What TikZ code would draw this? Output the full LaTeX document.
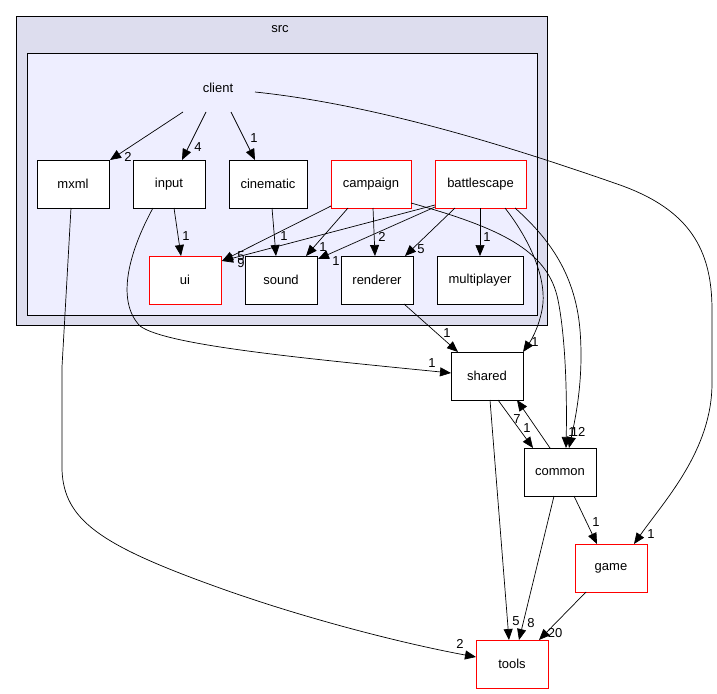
\documentclass[tikz,border=0pt]{standalone}
\usepackage{fontspec}
\setmainfont{Liberation Sans}
\usetikzlibrary{arrows.meta,calc}
\definecolor{outerfill}{HTML}{DDDDEE}
\definecolor{innerfill}{HTML}{EEEEFF}
\begin{document}
\begin{tikzpicture}[x=1pt,y=-1pt,
  box/.style={draw, fill=white, line width=0.8pt, minimum width=72pt, minimum height=48pt, inner sep=0pt, font=\fontsize{13}{15}\selectfont},
  redbox/.style={box, draw=red},
  lbl/.style={inner sep=0pt, font=\fontsize{13}{15}\selectfont},
  edge/.style={line width=0.7pt, -{Triangle[length=11pt,width=9pt]}}]
\useasboundingbox (0,0) rectangle (717,693);
% clusters
\draw[fill=outerfill, line width=0.8pt] (16,16) rectangle (547,325);
\node[lbl] (srclbl) at (280,29) {src};
\draw[fill=innerfill, line width=0.8pt] (27,53) rectangle (537,315);
\node[lbl, minimum width=72pt, minimum height=48pt] (client) at (218,88) {client};
% nodes
\node[box] (mxml) at (73,184) {mxml};
\node[box] (input) at (169,184) {input};
\node[box, minimum width=78pt] (cinematic) at (268,184) {cinematic};
\node[redbox, minimum width=80pt] (campaign) at (371,184) {campaign};
\node[redbox, minimum width=91pt] (battlescape) at (480.5,184) {battlescape};
\node[redbox] (ui) at (185,280) {ui};
\node[box] (sound) at (281,280) {sound};
\node[box] (renderer) at (377,280) {renderer};
\node[box, minimum width=86pt] (multiplayer) at (480,280) {multiplayer};
\node[box] (shared) at (487,376) {shared};
\node[box] (common) at (560,472) {common};
\node[redbox] (game) at (611,568) {game};
\node[redbox] (tools) at (512,664) {tools};
% edges
\draw[edge] ($(client)+(-35,24)$) -- ($(mxml)+(37,-24)$);
\node[lbl] (l1) at (128,157) {2};
\draw[edge] ($(client)+(-12,24)$) -- ($(input)+(13,-24)$);
\node[lbl] (l2) at (198,147) {4};
\draw[edge] ($(client)+(13,24)$) -- ($(cinematic)+(-13,-24)$);
\node[lbl] (l3) at (254,138) {1};
\draw[edge] ($(client)+(37,4)$) .. controls (380,105) and (520,150) .. (620,185)
  .. controls (690,210) and (712,250) .. (712,310) -- (712,383)
  .. controls (712,450) and (665,500) .. ($(game)+(23,-24)$);
\node[lbl] (l4) at (651,534) {1};
\draw[edge] ($(input)+(5,24)$) -- ($(ui)+(-4,-24)$);
\node[lbl] (l5) at (186,236) {1};
\draw[edge] ($(input)+(-16,24)$) .. controls (130,250) and (115,300) .. (140,326)
  .. controls (165,345) and (300,358) .. ($(shared)+(-36,-3)$);
\node[lbl] (l6) at (432,363) {1};
\draw[edge] ($(mxml)+(-2,24)$) -- (62,367) -- (62,470)
  .. controls (64,520) and (100,545) .. (217,587)
  .. controls (300,617) and (400,643) .. ($(tools)+(-36,-7)$);
\node[lbl] (l7) at (460,644) {2};
\draw[edge] ($(cinematic)+(4,24)$) -- ($(sound)+(-5,-24)$);
\node[lbl] (l8) at (284,236) {1};
\draw[edge] ($(campaign)+(-40,22)$) -- ($(ui)+(37,-19)$);
\node[lbl] (l9) at (241,256) {5};
\draw[edge] ($(campaign)+(-23,24)$) -- ($(sound)+(25,-24)$);
\node[lbl] (l10) at (323,247) {1};
\draw[edge] ($(campaign)+(2,24)$) -- ($(renderer)+(-2,-24)$);
\node[lbl] (l11) at (382,237) {2};
\draw[edge] ($(campaign)+(40,19)$) .. controls (500,228) and (548,250) .. (558,300)
  .. controls (566,340) and (567,400) .. ($(common)+(6,-24)$);
\node[lbl] (l12) at (572,432) {1};
\draw[edge] ($(battlescape)+(-45.5,21)$) -- ($(ui)+(37,-19)$);
\node[lbl] (l13) at (241,263) {9};
\draw[edge] ($(battlescape)+(-45.5,23)$) -- ($(sound)+(37,-21)$);
\node[lbl] (l14) at (336,261) {1};
\draw[edge] ($(battlescape)+(-25.5,24)$) -- ($(renderer)+(28,-24)$);
\node[lbl] (l15) at (421,249) {5};
\draw[edge] ($(battlescape)+(-0.5,24)$) -- ($(multiplayer)+(0,-24)$);
\node[lbl] (l16) at (487,237) {1};
\draw[edge] ($(battlescape)+(24.5,24)$) .. controls (530,240) and (548,280) .. (542,310)
  .. controls (538,330) and (530,342) .. ($(shared)+(36,-24)$);
\node[lbl] (l17) at (535,342) {1};
\draw[edge] ($(battlescape)+(34.5,24)$) .. controls (545,235) and (575,270) .. (580,330)
  .. controls (584,380) and (575,420) .. ($(common)+(9,-24)$);
\node[lbl] (l18) at (578,432) {12};
\draw[edge] ($(renderer)+(27,24)$) -- ($(shared)+(-29,-24)$);
\node[lbl] (l19) at (447,333) {1};
\draw[edge] ($(shared)+(11,24)$) -- ($(common)+(-27,-24)$);
\node[lbl] (l20) at (527,428) {1};
\draw[edge] ($(common)+(-10,-24)$) -- ($(shared)+(30,24)$);
\node[lbl] (l21) at (517,419) {7};
\draw[edge] ($(shared)+(3,24)$) -- ($(tools)+(-3,-24)$);
\node[lbl] (l22) at (516,621) {5};
\draw[edge] ($(common)+(-6,24)$) -- ($(tools)+(7,-24)$);
\node[lbl] (l23) at (531,623) {8};
\draw[edge] ($(common)+(14,24)$) -- ($(game)+(-14,-24)$);
\node[lbl] (l24) at (596,522) {1};
\draw[edge] ($(game)+(-25,24)$) -- ($(tools)+(27,-24)$);
\node[lbl] (l25) at (555,633) {20};
\end{tikzpicture}
\end{document}
